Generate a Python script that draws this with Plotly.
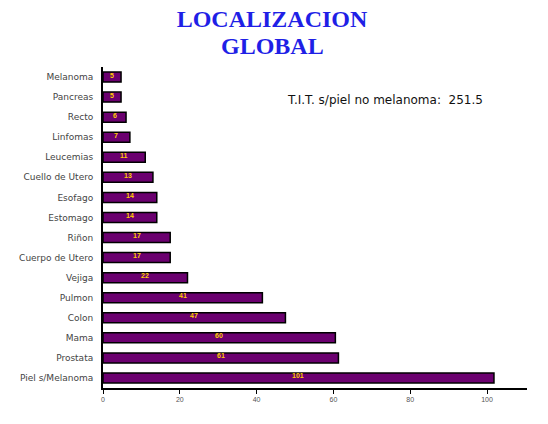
import plotly.graph_objects as go

localizacion = [
    "Melanoma", "Pancreas", "Recto", "Linfomas", "Leucemias",
    "Cuello de Utero", "Esofago", "Estomago", "Riñon", "Cuerpo de Utero",
    "Vejiga", "Pulmon", "Colon", "Mama", "Prostata", "Piel s/Melanoma",
]
tasas = [4.7, 4.7, 6.0, 7.0, 11.0, 13.0, 14.0, 14.0, 17.5, 17.5,
         22.0, 41.5, 47.5, 60.5, 61.3, 101.8]
etiquetas = ["5", "5", "6", "7", "11", "13", "14", "14", "17", "17",
             "22", "41", "47", "60", "61", "101"]
nota = "T.I.T. s/piel no melanoma:  251.5"

fig = go.Figure()
fig.add_trace(go.Bar(
    x=tasas, y=localizacion, orientation="h",
    marker=dict(color="#6b006f", line=dict(color="black", width=1.5)),
))

# etiquetas amarillas en el centro de cada barra
notas_barras = [
    dict(x=v / 2, y=cat, text=f"<b>{t}</b>", showarrow=False, yshift=2,
         font=dict(family="Liberation Sans", size=7, color="#ffcc00"))
    for v, cat, t in zip(tasas, localizacion, etiquetas)
]

fig.update_layout(
    width=548, height=424,
    template="plotly_white",
    plot_bgcolor="white", paper_bgcolor="white",
    margin=dict(l=103, r=21, t=67, b=36),
    showlegend=False,
    bargap=0.5,
    title=dict(
        text="<b>LOCALIZACION</b>",
        x=272 / 548, xanchor="center", xref="container",
        y=1 - 19 / 424, yanchor="middle", yref="container",
        font=dict(family="Liberation Serif", size=24, color="#1f1fe6"),
    ),
    annotations=notas_barras + [
        dict(text="<b>GLOBAL</b>", xref="paper", yref="paper",
             x=(272 - 103) / 424, y=(388 - 46) / 321,
             xanchor="center", yanchor="middle", showarrow=False,
             font=dict(family="Liberation Serif", size=24, color="#1f1fe6")),
        dict(text=nota, xref="paper", yref="paper", x=(485 - 103) / 424,
             y=(388 - 100) / 321, xanchor="right", yanchor="middle",
             showarrow=False,
             font=dict(family="DejaVu Sans", size=12, color="#111")),
    ],
)
fig.update_xaxes(
    range=[0, 110.4], tickvals=[0, 20, 40, 60, 80, 100],
    showgrid=False, zeroline=False,
    showline=True, linecolor="black", linewidth=2,
    ticks="outside", ticklen=4, tickcolor="black",
    tickfont=dict(family="Liberation Sans", size=7, color="#555"),
)
fig.update_yaxes(
    autorange="reversed", showgrid=False,
    showline=True, linecolor="black", linewidth=2,
    ticks="", ticklabelstandoff=6,
    tickfont=dict(family="DejaVu Sans", size=9, color="#444"),
)

fig.write_html("out.html", config={"displayModeBar": False},
               post_script="document.body.style.margin='0';")
